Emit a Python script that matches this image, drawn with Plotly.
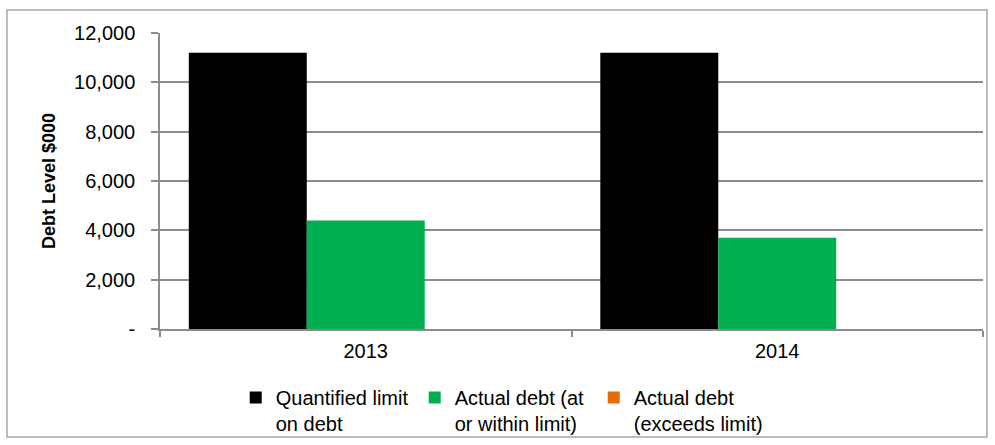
import plotly.graph_objects as go

categories = ["2013", "2014"]
series_names = [
    "Quantified limit<br>on debt",
    "Actual debt (at<br>or within limit)",
    "Actual debt<br>(exceeds limit)",
]
limit_values = [11200, 11200]
within_values = [4400, 3700]
exceeds_values = [0, 0]
series_values = [limit_values, within_values, exceeds_values]
series_colors = ["#000000", "#00B050", "#E46C0A"]

y_tick_vals = [0, 2000, 4000, 6000, 8000, 10000, 12000]
y_tick_text = ["-", "2,000", "4,000", "6,000", "8,000", "10,000", "12,000"]
y_title = "Debt Level $000"

FONT = "Liberation Sans, Arial, sans-serif"
GRID = "#8C8C8C"

fig = go.Figure()
for name, vals, col in zip(series_names, series_values, series_colors):
    fig.add_trace(go.Bar(
        x=categories, y=vals, name=name,
        marker=dict(color=col, line=dict(width=0)),
    ))

fig.update_layout(
    width=995, height=445,
    margin=dict(l=160, r=12, t=33, b=116, autoexpand=False),
    paper_bgcolor="white", plot_bgcolor="white",
    font=dict(family=FONT, size=20, color="#000000"),
    barmode="group", bargap=0.14, bargroupgap=0,
    showlegend=True,
    legend=dict(
        orientation="h", x=0.092, xanchor="left",
        yref="container", y=1 - 378 / 445, yanchor="top",
        valign="top", entrywidth=134, entrywidthmode="pixels",
        font=dict(family=FONT, size=20, color="#000000"),
        traceorder="normal", bgcolor="rgba(0,0,0,0)",
    ),
    xaxis=dict(
        type="category", showline=True, linecolor=GRID, linewidth=1.5,
        ticks="outside", tickson="boundaries", ticklen=6, tickcolor=GRID,
        tickwidth=1.5, showgrid=False, tickfont=dict(size=20),
        ticklabelstandoff=3,
    ),
    yaxis=dict(
        range=[0, 12000], tickvals=y_tick_vals, ticktext=y_tick_text,
        showline=True, linecolor=GRID, linewidth=1.5,
        ticks="outside", ticklen=7, tickcolor=GRID, tickwidth=1.5,
        showgrid=True, gridcolor=GRID, gridwidth=1.5,
        zeroline=False, tickfont=dict(size=20), ticklabelstandoff=12,
        title=dict(text="<b>" + y_title + "</b>", font=dict(size=18), standoff=14),
    ),
    shapes=[dict(
        type="rect", xref="paper", yref="paper",
        x0=(7 - 160) / 823, x1=(987 - 160) / 823,
        y0=(329 - 437) / 296, y1=(329 - 10) / 296,
        line=dict(color="#A6A6A6", width=1.5), fillcolor="rgba(0,0,0,0)",
        layer="below",
    )],
)

fig.write_html("out.html")
